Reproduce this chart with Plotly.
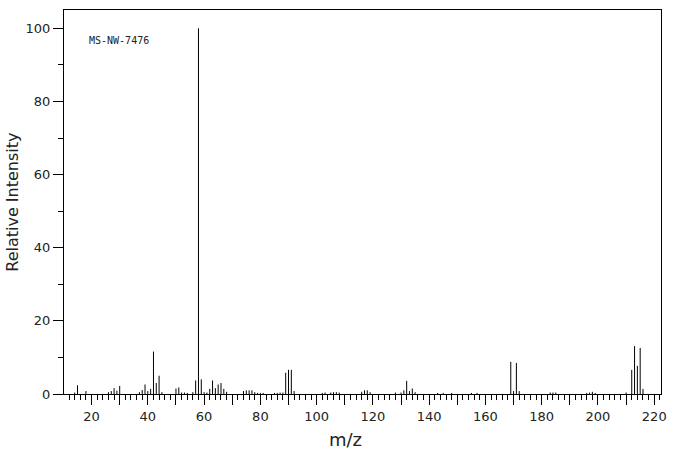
import plotly.graph_objects as go

# m/z values and relative intensities
mz = [14, 15, 18, 26, 27, 28, 29, 30, 37, 38, 39, 40, 41, 42, 43, 44, 45,
      50, 51, 52, 53, 54, 56, 57, 58, 59, 60, 61, 62, 63, 64, 65, 66, 67, 68,
      74, 75, 76, 77, 78, 79, 80, 81, 85, 86, 87, 88, 89, 90, 91, 92,
      102, 103, 105, 106, 107, 108, 116, 117, 118, 119, 128, 130, 131, 132,
      133, 134, 135, 143, 145, 148, 155, 157, 169, 170, 171, 172, 183, 184,
      185, 196, 197, 198, 199, 210, 212, 213, 214, 215, 216]
intensity = [0.4, 2.4, 0.8, 0.5, 0.8, 1.6, 0.9, 2.2, 0.5, 1.1, 2.6, 0.8, 1.4,
             11.6, 3.0, 5.0, 0.5,
             1.5, 1.8, 0.4, 0.4, 0.3, 0.5, 3.7, 100.0, 4.0, 0.5, 0.4, 1.4, 3.7,
             1.6, 2.6, 3.0, 1.4, 0.6,
             0.8, 1.0, 1.0, 1.0, 0.5, 0.3, 0.3, 0.3, 0.3, 0.3, 0.4, 0.4, 5.8,
             6.6, 6.6, 0.8,
             0.3, 0.4, 0.4, 0.5, 0.5, 0.4, 0.6, 1.0, 1.0, 0.5, 0.4, 0.4, 1.0,
             3.6, 0.8, 1.5, 0.5, 0.3, 0.3, 0.3, 0.3, 0.3, 8.8, 0.8, 8.5, 0.8,
             0.4, 0.4, 0.4, 0.3, 0.4, 0.6, 0.3, 0.4, 6.6, 13.1, 7.7, 12.6, 1.4]

x_labels = {str(v): "" for v in range(10, 230, 20)}  # only every 20 labelled

xs, ys = [], []
for m, h in zip(mz, intensity):
    xs += [m, m, None]
    ys += [0, h, None]

fig = go.Figure()
fig.add_trace(go.Scatter(x=xs, y=ys, mode="lines",
                         line=dict(color="black", width=1),
                         hoverinfo="skip", showlegend=False))

tick_font = dict(family="DejaVu Sans", size=13, color="#222")

fig.update_layout(
    width=676, height=455,
    margin=dict(l=64, r=12, t=9, b=61, pad=0),
    paper_bgcolor="white", plot_bgcolor="white",
    xaxis=dict(range=[10.2, 222.4], tickmode="linear", tick0=0, dtick=10,
               labelalias=x_labels,
               ticks="outside", ticklen=10, tickwidth=1, tickcolor="black",
               minor=dict(dtick=2, tick0=0, ticks="outside", ticklen=5,
                          tickwidth=1, tickcolor="black", showgrid=False),
               showline=True, linecolor="black", linewidth=1, mirror=True,
               showgrid=False, zeroline=False, tickfont=tick_font),
    yaxis=dict(range=[0, 105], tickmode="linear", tick0=0, dtick=20,
               ticks="outside", ticklen=10, tickwidth=1, tickcolor="black",
               minor=dict(dtick=10, tick0=0, ticks="outside", ticklen=5,
                          tickwidth=1, tickcolor="black", showgrid=False),
               showline=True, linecolor="black", linewidth=1, mirror=True,
               showgrid=False, zeroline=False, tickfont=tick_font),
    annotations=[
        dict(text="MS-NW-7476", xref="paper", yref="y", x=0.038, y=96.6,
             xanchor="left", yanchor="middle", showarrow=False,
             font=dict(family="DejaVu Sans Mono", size=10, color="#222")),
        dict(text="m/z", xref="paper", yref="paper", x=0.4717, y=-0.1195,
             xanchor="center", yanchor="middle", showarrow=False,
             font=dict(family="DejaVu Sans", size=18, color="#222")),
        dict(text="Relative Intensity", xref="paper", yref="paper",
             x=-0.0867, y=0.4987, xanchor="center", yanchor="middle",
             textangle=-90, showarrow=False,
             font=dict(family="DejaVu Sans", size=16, color="#222")),
    ],
)

fig.write_html("out.html")
